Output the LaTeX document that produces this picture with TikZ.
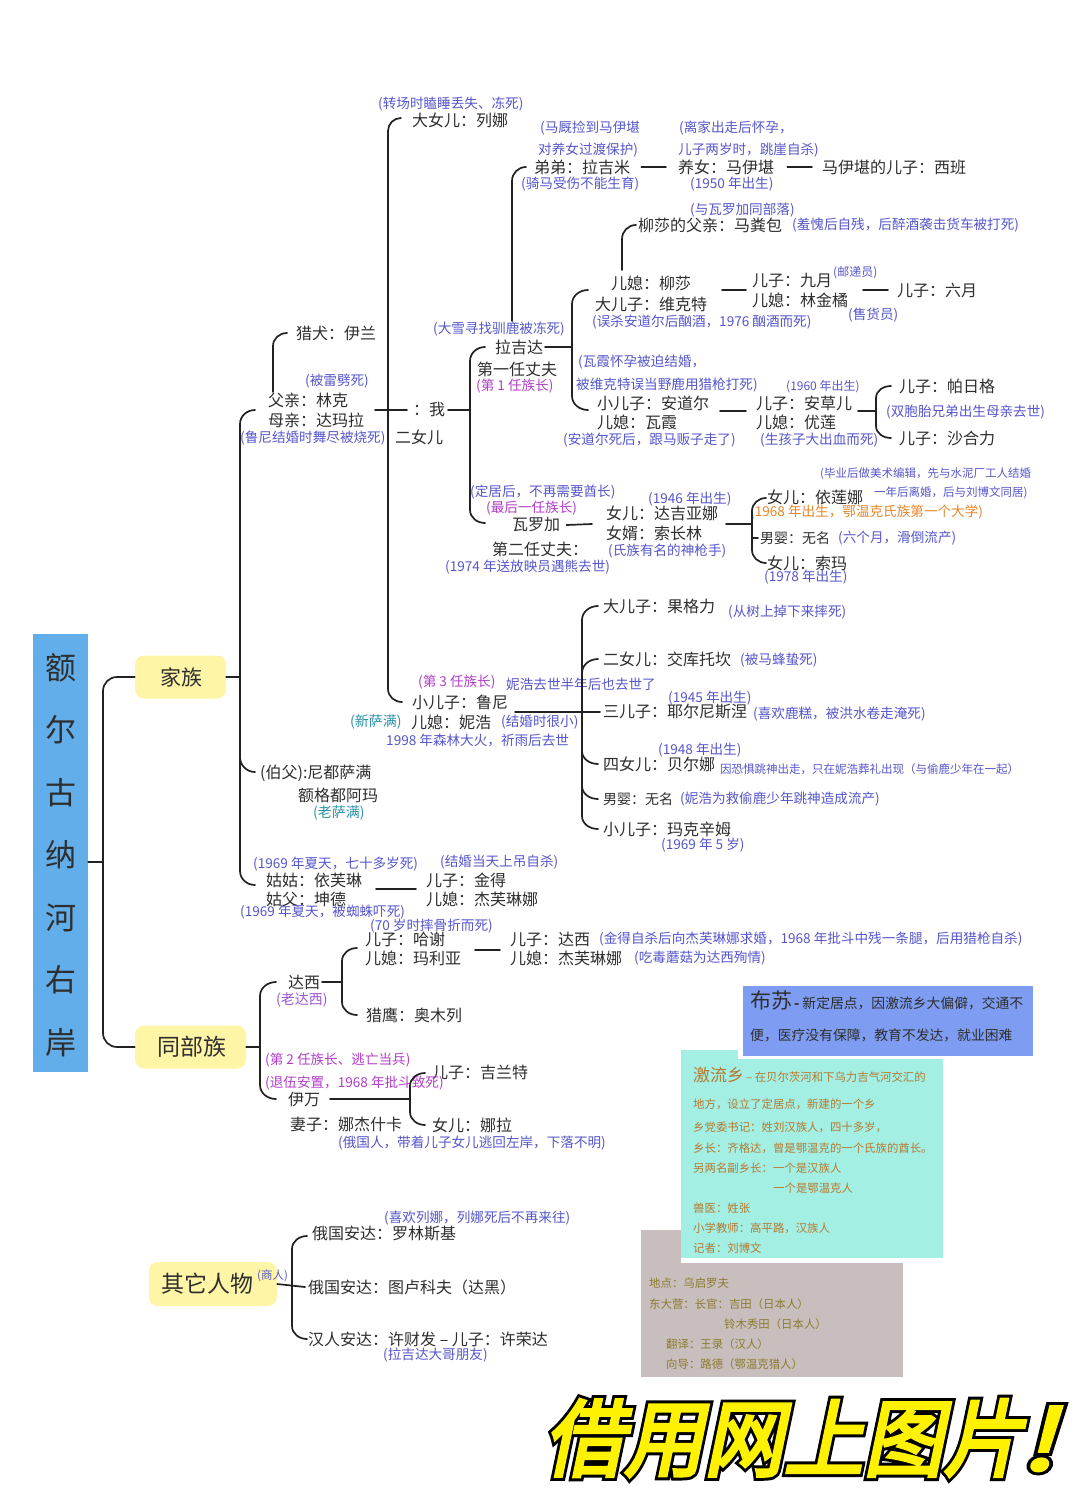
\documentclass[tikz,border=0pt]{standalone}
\usepackage{fontspec}
\setmainfont{Noto Sans CJK SC}
\newfontfamily\bigblack{Noto Sans CJK SC}[FakeSlant=0.22,FakeBold=11]
\newfontfamily\bigyellow{Noto Sans CJK SC}[FakeSlant=0.22,FakeBold=4]
\definecolor{tblack}{HTML}{2E2E2E}
\definecolor{nblue}{HTML}{5656CC}
\definecolor{npurple}{HTML}{B23FC9}
\definecolor{nteal}{HTML}{2B93A8}
\definecolor{nviolet}{HTML}{9B55D6}
\definecolor{norange}{HTML}{E8862A}
\definecolor{titleblue}{HTML}{62AEEA}
\definecolor{yfill}{HTML}{FFF5A6}
\definecolor{busuc}{HTML}{7E9DF2}
\definecolor{aquac}{HTML}{A4EFE4}
\definecolor{greyc}{HTML}{C9BEBE}
\definecolor{brownt}{HTML}{B47A30}
\definecolor{olivet}{HTML}{8A7B2E}
\definecolor{bigy}{HTML}{FFF200}
\definecolor{linec}{HTML}{222222}
\begin{document}
\begin{tikzpicture}[x=1pt,y=-1pt,
 tx/.style={anchor=west,inner sep=0pt,text=tblack,font=\fontsize{16}{18}\selectfont},
 txs/.style={tx,font=\fontsize{14}{16}\selectfont},
 nb/.style={anchor=west,inner sep=0pt,text=nblue,font=\fontsize{13.6}{15}\selectfont},
 nbs/.style={nb,font=\fontsize{11.5}{13}\selectfont},
 npu/.style={nb,text=npurple},
 ntl/.style={nb,text=nteal,font=\fontsize{14}{16}\selectfont},
 nvi/.style={nb,text=nviolet,font=\fontsize{14}{16}\selectfont},
 nor/.style={nb,text=norange},
 brk/.style={draw=linec,line width=1.7pt,line cap=round},
 ybox/.style={rounded corners=9pt,fill=yfill,inner sep=0pt},
 ytext/.style={anchor=west,inner sep=0pt,text=tblack},
 boxt/.style={anchor=west,inner sep=0pt,font=\fontsize{11.4}{13}\selectfont}
]
\fill[white] (0,0) rectangle (1080,1491);
\useasboundingbox (0,0) rectangle (1080,1491);

% ---------- title ----------
\node[fill=titleblue,minimum width=55pt,minimum height=438pt,inner sep=0pt] (title) at (60.5,853) {};
\node[font=\fontsize{31}{62.5}\selectfont,align=center,text=tblack,inner sep=0pt] (titletext) at (60.5,855) {额\\尔\\古\\纳\\河\\右\\岸};

% ---------- category boxes ----------
\node[ybox,minimum width=91pt,minimum height=43pt] (jiazu) at (180.5,677) {};
\node[ytext,font=\fontsize{21}{24}\selectfont] (jiazut) at (160,677) {家族};
\node[ybox,minimum width=111pt,minimum height=43pt] (tongbu) at (190.5,1047) {};
\node[ytext,font=\fontsize{23}{26}\selectfont] (tongbut) at (157,1047) {同部族};
\node[ybox,minimum width=128pt,minimum height=44pt] (qita) at (213,1284) {};
\node[ytext,font=\fontsize{23}{26}\selectfont] (qitat) at (161,1284) {其它人物};
\node[nbs] (shangren) at (257,1276) {(商人)};

% ---------- texts: top ----------
\node[nb] (n1) at (378,104) {(转场时瞌睡丢失、冻死)};
\node[tx] (t1) at (412,120) {大女儿：列娜};
\node[nb] (n2) at (540,128) {(马厩捡到马伊堪};
\node[nb] (n3) at (538,150) {对养女过渡保护)};
\node[nb] (n4) at (679,128) {(离家出走后怀孕，};
\node[nb] (n5) at (678,150) {儿子两岁时，跳崖自杀)};
\node[tx] (t2) at (534,167) {弟弟：拉吉米};
\node[tx] (t3) at (678,167) {养女：马伊堪};
\node[tx] (t4) at (822,167) {马伊堪的儿子：西班};
\node[nb] (n6) at (521,184) {(骑马受伤不能生育)};
\node[nb] (n7) at (690,184) {(1950 年出生)};
\node[nb] (n8) at (690,210) {(与瓦罗加同部落)};
\node[tx] (t5) at (638,225) {柳莎的父亲：马粪包};
\node[nb] (n9) at (792,225) {(羞愧后自残，后醉酒袭击货车被打死)};
\node[tx] (t6) at (611,283) {儿媳：柳莎};
\node[tx] (t7) at (595,304) {大儿子：维克特};
\node[nb] (n10) at (592,322) {(误杀安道尔后酗酒，1976 酗酒而死)};
\node[tx] (t8) at (752,281) {儿子：九月};
\node[nb,font=\fontsize{12}{14}\selectfont] (n11) at (833,273) {(邮递员)};
\node[tx] (t9) at (752,300) {儿媳：林金橘};
\node[nb] (n12) at (848,315) {(售货员)};
\node[tx] (t10) at (897,290) {儿子：六月};
\node[nb] (n13) at (433,329) {(大雪寻找驯鹿被冻死)};
\node[tx] (t11) at (296,333) {猎犬：伊兰};
\node[tx] (t12) at (495,347) {拉吉达};
\node[tx] (t13) at (477,369) {第一任丈夫};
\node[npu] (np1) at (476,386) {(第 1 任族长)};
\node[nb] (n14) at (578,362) {(瓦霞怀孕被迫结婚，};
\node[nb] (n15) at (576,385) {被维克特误当野鹿用猎枪打死)};
\node[nb] (n16) at (305,381) {(被雷劈死)};
\node[nb,font=\fontsize{12}{14}\selectfont] (n17) at (786,387) {(1960 年出生)};
\node[tx] (t14) at (899,386) {儿子：帕日格};
\node[tx] (t15) at (268,400) {父亲：林克};
\node[tx] (t16) at (268,420) {母亲：达玛拉};
\node[tx] (t17) at (413,410) {：我};
\node[tx] (t18) at (597,403) {小儿子：安道尔};
\node[tx] (t19) at (597,422) {儿媳：瓦霞};
\node[tx] (t20) at (756,403) {儿子：安草儿};
\node[tx] (t21) at (756,422) {儿媳：优莲};
\node[nb] (n18) at (886,412) {(双胞胎兄弟出生母亲去世)};
\node[nb] (n19) at (240,438) {(鲁尼结婚时舞尽被烧死)};
\node[tx] (t22) at (395,437) {二女儿};
\node[nb] (n20) at (563,440) {(安道尔死后，跟马贩子走了)};
\node[nb] (n21) at (760,440) {(生孩子大出血而死)};
\node[tx] (t23) at (899,438) {儿子：沙合力};

% ---------- Waluojia branch ----------
\node[nbs] (ns1) at (820,474) {(毕业后做美术编辑，先与水泥厂工人结婚};
\node[nb] (n22) at (470,492) {(定居后，不再需要酋长)};
\node[nbs] (ns2) at (874,493) {一年后离婚，后与刘博文同居)};
\node[tx] (t24) at (767,497) {女儿：依莲娜};
\node[nb] (n23) at (648,499) {(1946 年出生)};
\node[npu] (np2) at (486,508) {(最后一任族长)};
\node[tx] (t25) at (606,513) {女儿：达吉亚娜};
\node[nor] (no1) at (750,512) {(1968 年出生，鄂温克氏族第一个大学)};
\node[tx] (t26) at (512,525) {瓦罗加};
\node[tx] (t27) at (606,533) {女婿：索长林};
\node[txs] (t28) at (760,538) {男婴：无名};
\node[nb] (n24) at (838,538) {(六个月，滑倒流产)};
\node[tx] (t29) at (492,549) {第二任丈夫：};
\node[nb] (n25) at (608,551) {(氏族有名的神枪手)};
\node[tx] (t30) at (767,563) {女儿：索玛};
\node[nb] (n26) at (445,567) {(1974 年送放映员遇熊去世)};
\node[nb] (n27) at (764,577) {(1978 年出生)};

% ---------- Luni branch ----------
\node[tx] (t31) at (603,606) {大儿子：果格力};
\node[nb] (n28) at (728,612) {(从树上掉下来摔死)};
\node[tx] (t32) at (603,659) {二女儿：交库托坎};
\node[nb] (n29) at (740,660) {(被马蜂蛰死)};
\node[npu] (np3) at (418,682) {(第 3 任族长)};
\node[nb] (n30) at (506,684) {妮浩去世半年后也去世了};
\node[nb] (n31) at (668,698) {(1945 年出生)};
\node[tx] (t33) at (412,702) {小儿子：鲁尼};
\node[tx] (t34) at (603,712) {三儿子：耶尔尼斯涅};
\node[nb] (n32) at (753,714) {(喜欢鹿糕，被洪水卷走淹死)};
\node[ntl] (nt1) at (350,722) {(新萨满)};
\node[tx] (t35) at (411,722) {儿媳：妮浩};
\node[nb] (n33) at (501,722) {(结婚时很小)};
\node[nb] (n34) at (386,740) {1998 年森林大火，祈雨后去世};
\node[nb] (n35) at (658,750) {(1948 年出生)};
\node[tx] (t36) at (603,764) {四女儿：贝尔娜};
\node[nbs] (ns3) at (720,769) {因恐惧跳神出走，只在妮浩葬礼出现（与偷鹿少年在一起）};
\node[tx] (t37) at (260,773) {(伯父):尼都萨满};
\node[tx] (t38) at (298,795) {额格都阿玛};
\node[txs] (t39) at (603,799) {男婴：无名};
\node[nb] (n36) at (680,799) {(妮浩为救偷鹿少年跳神造成流产)};
\node[ntl] (nt2) at (313,813) {(老萨满)};
\node[tx] (t40) at (603,829) {小儿子：玛克辛姆};
\node[nb] (n37) at (661,845) {(1969 年 5 岁)};

% ---------- aunt ----------
\node[nb] (n38) at (440,862) {(结婚当天上吊自杀)};
\node[nb] (n39) at (253,864) {(1969 年夏天，七十多岁死)};
\node[tx] (t41) at (266,880) {姑姑：依芙琳};
\node[tx] (t42) at (426,880) {儿子：金得};
\node[tx] (t43) at (266,899) {姑父：坤德};
\node[tx] (t44) at (426,899) {儿媳：杰芙琳娜};
\node[nb] (n40) at (240,912) {(1969 年夏天，被蜘蛛吓死)};

% ---------- tongbuzu ----------
\node[nb] (n41) at (370,926) {(70 岁时摔骨折而死)};
\node[tx] (t45) at (365,939) {儿子：哈谢};
\node[tx] (t46) at (510,939) {儿子：达西};
\node[nb] (n42) at (599,939) {(金得自杀后向杰芙琳娜求婚，1968 年批斗中残一条腿，后用猎枪自杀)};
\node[tx] (t47) at (365,958) {儿媳：玛利亚};
\node[tx] (t48) at (510,958) {儿媳：杰芙琳娜};
\node[nb] (n43) at (634,958) {(吃毒蘑菇为达西殉情)};
\node[tx] (t49) at (288,982) {达西};
\node[nvi] (nv1) at (276,1000) {(老达西)};
\node[tx] (t50) at (366,1015) {猎鹰：奥木列};
\node[npu] (np4) at (265,1060) {(第 2 任族长、逃亡当兵)};
\node[tx] (t51) at (432,1072) {儿子：吉兰特};
\node[npu] (np5) at (265,1083) {(退伍安置，1968 年批斗致死)};
\node[tx] (t52) at (288,1099) {伊万};
\node[tx] (t53) at (290,1124) {妻子：娜杰什卡};
\node[tx] (t54) at (432,1125) {女儿：娜拉};
\node[nb] (n44) at (338,1143) {(俄国人，带着儿子女儿逃回左岸，下落不明)};

% ---------- others ----------
\node[nb] (n45) at (384,1218) {(喜欢列娜，列娜死后不再来往)};
\node[tx] (t55) at (312,1234) {俄国安达：罗林斯基};
\node[tx] (t56) at (308,1287) {俄国安达：图卢科夫（达黑）};
\node[tx] (t57) at (308,1339) {汉人安达：许财发 -- 儿子：许荣达};
\node[nb] (n46) at (383,1355) {(拉吉达大哥朋友)};

% ---------- connectors ----------
\draw[brk] (title.east |- 0,862) -- (103,862);
\draw[brk] (jiazu.west) -- (117,677) to[out=180,in=90] (103,691) -- (103,1033) to[out=-90,in=180] (117,1047) -- (tongbu.west);
\draw[brk] (jiazu.east) -- (240,677);
\draw[brk] (255,410) to[out=180,in=90] (240,424) -- (240,871) to[out=-90,in=180] (255,885);
\draw[brk] (240,757) to[out=-90,in=180] (255,772);
\draw[brk] (273,392) -- (273,346) to[out=90,in=180] (287,333);
\draw[brk] (375,410) -- (407,410);
\draw[brk] (401,118) to[out=180,in=90] (388,131) -- (388,689) to[out=-90,in=180] (402,702);
\draw[brk] (448,410) -- (470,410);
\draw[brk] (485,347) to[out=180,in=90] (470,361) -- (470,510) to[out=-90,in=180] (485,523);
\draw[brk] (545,347) -- (572,347);
\draw[brk] (588,290) to[out=180,in=90] (572,304) -- (572,396) to[out=-90,in=180] (588,410);
\draw[brk] (512,321) -- (512,181) to[out=90,in=180] (526,167);
\draw[brk] (622,270) -- (622,239) to[out=90,in=180] (636,225);
\draw[brk] ([xshift=11pt]t2.east) -- ([xshift=-12pt]t3.west);
\draw[brk] ([xshift=13pt]t3.east) -- ([xshift=-10pt]t4.west);
\draw[brk] (722,290) -- (746,290);
\draw[brk] (863,290) -- (888,290);
\draw[brk] (720,411) -- (746,411);
\draw[brk] (858,411) -- (876,411);
\draw[brk] (891,386) to[out=180,in=90] (876,398) -- (876,426) to[out=-90,in=180] (891,438);
\draw[brk] ([xshift=6pt]t26.east) -- (592,524);
\draw[brk] (726,524) -- (752,524);
\draw[brk] (766,498) to[out=180,in=90] (752,511) -- (752,550) to[out=-90,in=180] (766,563);
\draw[brk] (752,538) -- (758,538);
\draw[brk] (515,712) -- (600,712);
\draw[brk] (598,606) to[out=180,in=90] (582,620) -- (582,816) to[out=-90,in=180] (598,829);
\draw[brk] (582,673) to[out=90,in=180] (598,659);
\draw[brk] (582,751) to[out=-90,in=180] (598,764);
\draw[brk] (582,786) to[out=-90,in=180] (598,799);
\draw[brk] (376,889) -- (416,889);
\draw[brk] (tongbu.east) -- (260,1047);
\draw[brk] (276,982) to[out=180,in=90] (260,996) -- (260,1085) to[out=-90,in=180] (276,1099);
\draw[brk] (322,982) -- (342,982);
\draw[brk] (357,948) to[out=180,in=90] (342,961) -- (342,1002) to[out=-90,in=180] (357,1015);
\draw[brk] (475,950) -- (500,950);
\draw[brk] (330,1099) -- (410,1099);
\draw[brk] (425,1073) to[out=180,in=90] (410,1086) -- (410,1112) to[out=-90,in=180] (425,1125);
\draw[brk] (qita.east) -- (305,1287);
\draw[brk] (307,1236) to[out=180,in=90] (292,1249) -- (292,1326) to[out=-90,in=180] (307,1339);

% ---------- info boxes ----------
\fill[greyc] (641,1230) rectangle (903,1377);
\fill[white] (681,1258) rectangle (906,1263);
\fill[aquac] (681,1050) rectangle (943,1258);
\fill[white] (738,982) rectangle (1036,1059);
\fill[busuc] (743,986) rectangle (1033,1056);
\node[boxt,text=tblack] (busu1) at (750,1001) {{\fontsize{21}{24}\selectfont 布苏}\,{\fontsize{13.8}{16}\selectfont\textbf{-} 新定居点，因激流乡大偏僻，交通不}};
\node[boxt,text=tblack,font=\fontsize{13.8}{16}\selectfont] (busu2) at (750,1035) {便，医疗没有保障，教育不发达，就业困难};
\node[boxt,text=brownt] (jl1) at (693,1075) {{\fontsize{17}{20}\selectfont 激流乡}\,{\fontsize{11.4}{13}\selectfont -- 在贝尔茨河和下乌力吉气河交汇的}};
\node[boxt,text=brownt] (jl2) at (693,1104) {地方，设立了定居点，新建的一个乡};
\node[boxt,text=brownt] (jl3) at (693,1127) {乡党委书记：姓刘汉族人，四十多岁，};
\node[boxt,text=brownt] (jl4) at (693,1148) {乡长：齐格达，曾是鄂温克的一个氏族的酋长。};
\node[boxt,text=brownt] (jl5) at (693,1168) {另两名副乡长：一个是汉族人};
\node[boxt,text=brownt] (jl6) at (773,1188) {一个是鄂温克人};
\node[boxt,text=brownt] (jl7) at (693,1208) {兽医：姓张};
\node[boxt,text=brownt] (jl8) at (693,1228) {小学教师：高平路，汉族人};
\node[boxt,text=brownt] (jl9) at (693,1248) {记者：刘博文};
\node[boxt,text=olivet] (g1) at (649,1283) {地点：乌启罗夫};
\node[boxt,text=olivet] (g2) at (649,1304) {东大营：长官：吉田（日本人）};
\node[boxt,text=olivet] (g3) at (724,1324) {铃木秀田（日本人）};
\node[boxt,text=olivet] (g4) at (666,1344) {翻译：王录（汉人）};
\node[boxt,text=olivet] (g5) at (666,1364) {向导：路德（鄂温克猎人）};

% ---------- big slogan ----------
\node[inner sep=0pt,text=black,anchor=west] (bigb) at (544,1438) {\scalebox{0.95}[1]{\bigblack\fontsize{84}{90}\selectfont 借用网上图片\kern-2pt\scalebox{1.35}[1]{!}}};
\node[inner sep=0pt,text=bigy,anchor=west] (bigf) at (544,1438) {\scalebox{0.95}[1]{\bigyellow\fontsize{84}{90}\selectfont 借用网上图片\kern-2pt\scalebox{1.35}[1]{!}}};
\end{tikzpicture}
\end{document}
